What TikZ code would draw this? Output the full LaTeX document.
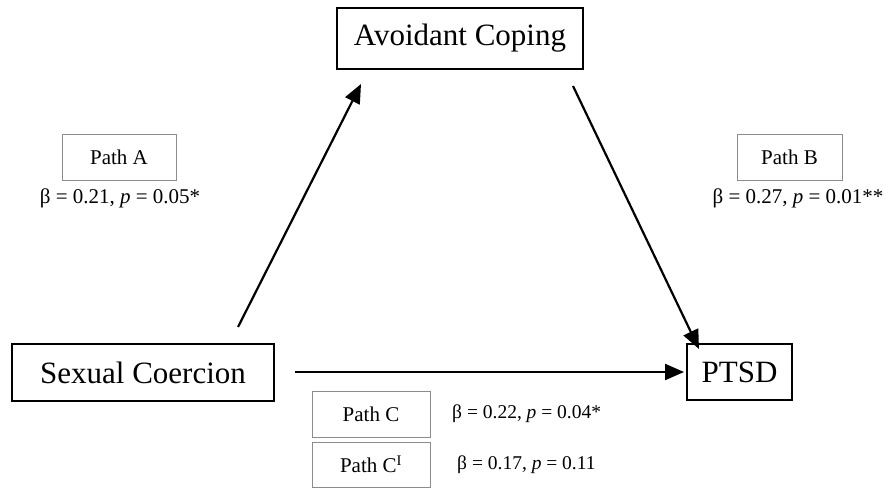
\documentclass[tikz,border=0pt]{standalone}
\usepackage{fontspec}
\setmainfont{Liberation Serif}
\usepackage{tikz}
\usetikzlibrary{arrows.meta}

\tikzset{
  mainbox/.style={draw, line width=1.6pt, inner sep=0pt, font=\fontsize{31}{37}\selectfont},
  pathbox/.style={draw=black!45, line width=0.9pt, inner sep=0pt, minimum height=46pt, font=\fontsize{21}{25}\selectfont},
  stat/.style={inner sep=0pt, font=\fontsize{21}{25}\selectfont},
  smallstat/.style={stat, font=\fontsize{19.5}{23}\selectfont},
  effect/.style={line width=2.2pt, -{Triangle[length=19pt,width=16pt]}}
}

\begin{document}
\begin{tikzpicture}[x=1pt, y=-1pt]
    \useasboundingbox (0,0) rectangle (891,489);

    % Draw the three variables
    \node[mainbox, minimum width=246pt, minimum height=61pt] (cope) at (460,38.5) {Avoidant Coping};
    \node[mainbox, minimum width=262pt, minimum height=57pt] (coerce) at (143,372.5) {Sexual Coercion};
    \node[mainbox, minimum width=105pt, minimum height=56pt] (ptsd) at (739.5,372) {PTSD};

    % Free ends of the paths
    \coordinate (a0) at (238,327);
    \coordinate (a1) at (361,84);
    \coordinate (b0) at (573,86);
    \coordinate (b1) at (699,349);
    \coordinate (c0) at (295,372);
    \coordinate (c1) at (684,372);

    % Draw the paths
    \draw[effect] (a0) -- (a1);
    \draw[effect] (b0) -- (b1);
    \draw[effect] (c0) -- (c1);

    % Path labels and estimates
    \node[pathbox, minimum width=114pt] (pa) at (119,157.5) {Path A};
    \node[stat] (sa) at (120,198) {β = 0.21, \textit{p} = 0.05*};

    \node[pathbox, minimum width=105pt] (pb) at (789.5,157.5) {Path B};
    \node[stat] (sb) at (798,198) {β = 0.27, \textit{p} = 0.01**};

    \node[pathbox, minimum width=118pt] (pc) at (371,414) {Path C};
    \node[smallstat, anchor=west] (sc) at (452,414) {β = 0.22, \textit{p} = 0.04*};

    \node[pathbox, minimum width=118pt, minimum height=45pt] (pd) at (371,464.5) {Path C\textsuperscript{I}};
    \node[smallstat, anchor=west] (sd) at (457,464.5) {β = 0.17, \textit{p} = 0.11};
\end{tikzpicture}
\end{document}
